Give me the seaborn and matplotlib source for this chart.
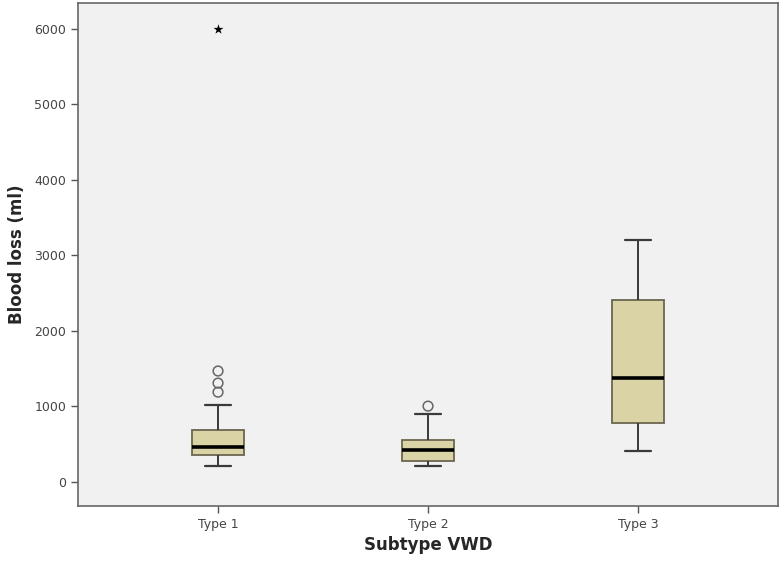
import numpy as np
import pandas as pd
import matplotlib
matplotlib.use("Agg")
import matplotlib.pyplot as plt
import seaborn as sns

sns.set_style("white")
plt.rcParams["font.family"] = ["DejaVu Sans"]

# ---------------- DATA ----------------
subtypes = ["Type 1", "Type 2", "Type 3"]
whisker_low = [210, 210, 410]
q1 = [360, 280, 780]
median = [460, 425, 1375]
q3 = [690, 555, 2405]
whisker_high = [1020, 900, 3200]

# mild outliers (circles) and extreme outliers (stars)
outlier_group = ["Type 1", "Type 1", "Type 1", "Type 2"]
outlier_value = [1190, 1310, 1470, 1005]
extreme_group = ["Type 1"]
extreme_value = [6000]

# five-number summaries -> long table (linear percentiles reproduce them)
rows = []
for g, lo, a, m, b, hi in zip(subtypes, whisker_low, q1, median, q3, whisker_high):
    for v in (lo, a, m, b, hi):
        rows.append({"subtype": g, "blood_loss": v})
df = pd.DataFrame(rows)
out_df = pd.DataFrame({"subtype": outlier_group, "blood_loss": outlier_value})
ext_df = pd.DataFrame({"subtype": extreme_group, "blood_loss": extreme_value})

# ---------------- PLOT ----------------
fig = plt.figure(figsize=(7.82, 5.61), dpi=100)
ax = fig.add_axes([0.0997, 0.098, 0.8953, 0.8967])
ax.set_facecolor("#f1f1f1")

edge = "#3a3a3a"
sns.boxplot(data=df, x="subtype", y="blood_loss", order=subtypes, whis=np.inf,
            width=0.25, color="#d9d3a6", saturation=1, linewidth=1.3, fliersize=0,
            boxprops={"edgecolor": "#6b6650"},
            whiskerprops={"color": edge, "linewidth": 1.4},
            capprops={"color": edge, "linewidth": 1.6},
            medianprops={"color": "black", "linewidth": 2.6},
            ax=ax)

sns.stripplot(data=out_df, x="subtype", y="blood_loss", order=subtypes, jitter=False,
              marker="o", size=7, color="none", edgecolor="#666666", linewidth=1.1, ax=ax)
sns.stripplot(data=ext_df, x="subtype", y="blood_loss", order=subtypes, jitter=False,
              marker="*", size=7.5, color="black", ax=ax)

ax.set_xlim(-0.667, 2.667)
ax.set_ylim(-318, 6344)
ax.set_yticks([0, 1000, 2000, 3000, 4000, 5000, 6000])
ax.tick_params(axis="both", direction="out", length=5, width=1, color="#555555",
               labelsize=9, labelcolor="#444444", left=True, bottom=True)
ax.set_xlabel("Subtype VWD", fontsize=12, fontweight="bold", labelpad=4)
ax.set_ylabel("Blood loss (ml)", fontsize=12, fontweight="bold", labelpad=6)
for s in ax.spines.values():
    s.set_color("#666666")
    s.set_linewidth(1.2)

plt.savefig("out.png", dpi=100, facecolor="white")
plt.close()
